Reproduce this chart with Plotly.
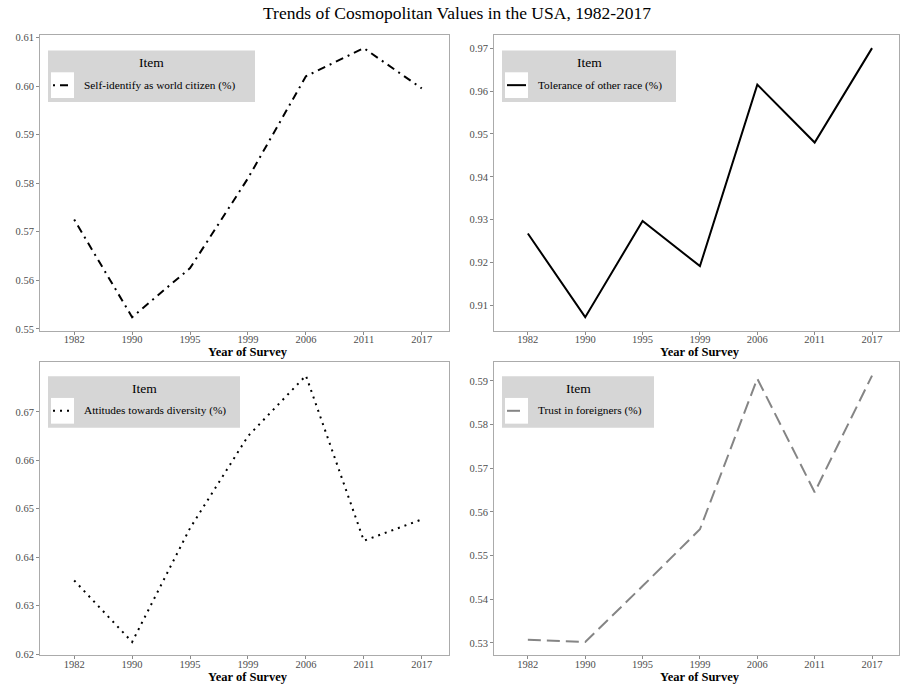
import plotly.graph_objects as go

# Survey waves (shown as evenly spaced categories)
years = ["1982", "1990", "1995", "1999", "2006", "2011", "2017"]

# Share of respondents, per item
world_citizen = [0.5725, 0.5524, 0.5625, 0.5810, 0.6020, 0.6078, 0.5995]
tolerance_race = [0.9268, 0.9073, 0.9297, 0.9192, 0.9615, 0.9480, 0.9700]
diversity = [0.6352, 0.6225, 0.6460, 0.6650, 0.6775, 0.6434, 0.6478]
trust_foreign = [0.5307, 0.5302, 0.5430, 0.5560, 0.5905, 0.5645, 0.5912]

item_names = [
    "Self-identify as world citizen (%)",
    "Tolerance of other race (%)",
    "Attitudes towards diversity (%)",
    "Trust in foreigners (%)",
]
series = [world_citizen, tolerance_race, diversity, trust_foreign]
line_colors = ["#000000", "#000000", "#000000", "#858585"]
line_dashes = ["2px,5px,8px,5px", "solid", "2px,5px", "13px,6px"]
tick_sets = [
    [0.55, 0.56, 0.57, 0.58, 0.59, 0.60, 0.61],
    [0.91, 0.92, 0.93, 0.94, 0.95, 0.96, 0.97],
    [0.62, 0.63, 0.64, 0.65, 0.66, 0.67],
    [0.53, 0.54, 0.55, 0.56, 0.57, 0.58, 0.59],
]
legend_widths = [207, 174, 192, 152]

W, H = 901, 687
SERIF = "Liberation Serif, Times New Roman, serif"

# Panel boxes in pixels: (left, top, right, bottom)
panels = [
    (40, 32, 449, 331),
    (494, 32, 899, 331),
    (40, 363, 449, 659),
    (494, 363, 899, 659),
]


def fx(x):
    return x / W


def fy(y):
    return 1 - y / H


fig = go.Figure()
shapes = []
annotations = []

for i, (vals, name) in enumerate(zip(series, item_names)):
    n = i + 1
    xa = "x" if n == 1 else f"x{n}"
    ya = "y" if n == 1 else f"y{n}"
    left, top, right, bottom = panels[i]

    fig.add_trace(go.Scatter(
        x=years, y=vals, mode="lines", name=name,
        line=dict(color=line_colors[i], width=2, dash=line_dashes[i]),
        xaxis=xa, yaxis=ya, showlegend=False,
    ))

    lo, hi = min(vals), max(vals)
    pad = 0.05 * (hi - lo)
    axis_common = dict(
        showgrid=False, zeroline=False, showline=True, mirror=True,
        linecolor="#ababab", linewidth=1,
        ticks="outside", ticklen=3, tickwidth=1, tickcolor="#8a8a8a",
        tickfont=dict(family=SERIF, size=10.5, color="#4d4d4d"),
    )
    fig.update_layout({
        f"xaxis{'' if n == 1 else n}": dict(
            domain=[fx(left), fx(right)], anchor=ya,
            type="category", categoryorder="array", categoryarray=years,
            range=[-0.59, 6.47], ticklabelstandoff=-4, **axis_common,
        ),
        f"yaxis{'' if n == 1 else n}": dict(
            domain=[fy(bottom), fy(top)], anchor=xa,
            range=[lo - pad, hi + pad], tickvals=tick_sets[i],
            ticktext=[f"{t:.2f}" for t in tick_sets[i]], **axis_common,
        ),
    })

    # Axis title under each panel
    annotations.append(dict(
        text="<b>Year of Survey</b>", xref="paper", yref="paper",
        x=fx((left + right) / 2 + 3), y=fy(bottom + 21.5),
        xanchor="center", yanchor="middle", showarrow=False,
        font=dict(family=SERIF, size=12.5, color="#000000"),
    ))

    # Legend box inside the panel's upper-left corner
    bx0 = left + 8
    by0 = top + 16 if i < 2 else top + 14
    bx1 = bx0 + legend_widths[i]
    by1 = by0 + 52
    shapes.append(dict(
        type="rect", xref="paper", yref="paper", layer="above",
        x0=fx(bx0), x1=fx(bx1), y0=fy(by1), y1=fy(by0),
        fillcolor="#d6d6d6", line=dict(width=0),
    ))
    shapes.append(dict(
        type="rect", xref="paper", yref="paper", layer="above",
        x0=fx(bx0 + 3), x1=fx(bx0 + 26), y0=fy(by0 + 48), y1=fy(by0 + 22),
        fillcolor="#ffffff", line=dict(width=0),
    ))
    shapes.append(dict(
        type="line", xref="paper", yref="paper", layer="above",
        x0=fx(bx0 + 5), x1=fx(bx0 + 24), y0=fy(by0 + 35), y1=fy(by0 + 35),
        line=dict(color=line_colors[i], width=2, dash=line_dashes[i]),
    ))
    annotations.append(dict(
        text="Item", xref="paper", yref="paper",
        x=fx((bx0 + bx1) / 2), y=fy(by0 + 12),
        xanchor="center", yanchor="middle", showarrow=False,
        font=dict(family=SERIF, size=13.5, color="#000000"),
    ))
    annotations.append(dict(
        text=name, xref="paper", yref="paper",
        x=fx(bx0 + 34), y=fy(by0 + 35),
        xanchor="left", yanchor="middle", showarrow=False,
        font=dict(family=SERIF, size=11.3, color="#000000"),
    ))

fig.update_layout(
    width=W, height=H,
    margin=dict(l=0, r=0, t=0, b=0),
    paper_bgcolor="#ffffff", plot_bgcolor="#ffffff",
    title=dict(
        text="Trends of Cosmopolitan Values in the USA, 1982-2017",
        x=fx(457), y=fy(13), xanchor="center", yanchor="middle",
        font=dict(family=SERIF, size=17.5, color="#000000"),
    ),
    shapes=shapes,
    annotations=annotations,
    showlegend=False,
)

fig.write_html("out.html")
